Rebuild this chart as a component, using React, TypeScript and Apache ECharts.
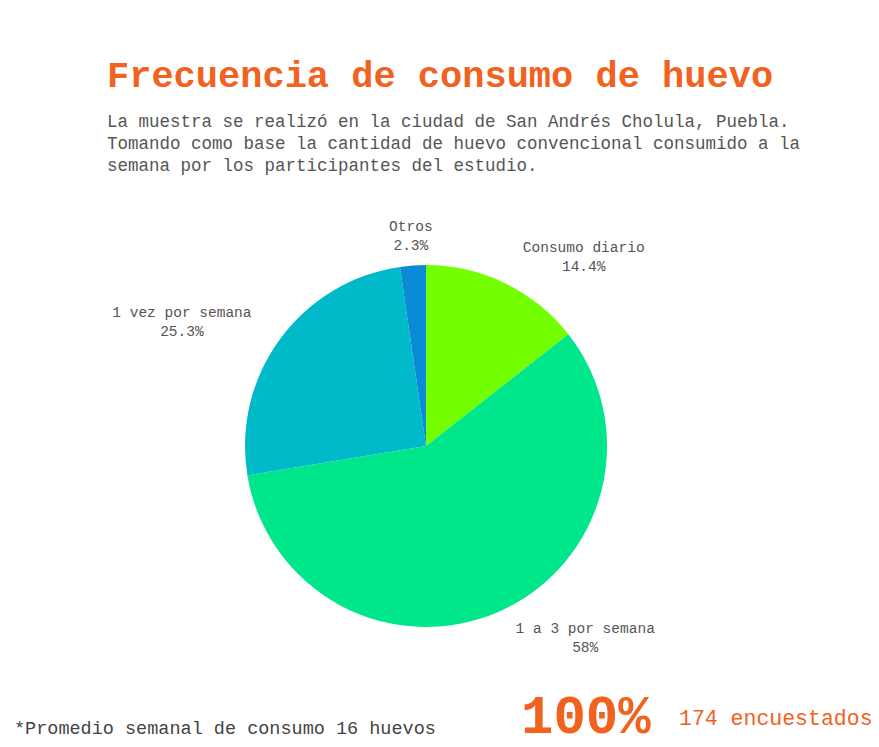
import React, { useEffect, useRef } from "react";
import * as echarts from "echarts";

const categories = ["Consumo diario", "1 a 3 por semana", "1 vez por semana", "Otros"];
const values = [14.4, 58, 25.3, 2.3];
const colors = ["#74ff00", "#00e68a", "#00b9c9", "#0b8ad6"];

const titleText = "Frecuencia de consumo de huevo";
const subtitleLines = [
  "La muestra se realizó en la ciudad de San Andrés Cholula, Puebla.",
  "Tomando como base la cantidad de huevo convencional consumido a la",
  "semana por los participantes del estudio.",
];
const footnote = "*Promedio semanal de consumo 16 huevos";
const bigNumber = "100%";
const respondents = "174 encuestados";

const ORANGE = "#f0621e";
const MONO = "'Liberation Mono', 'DejaVu Sans Mono', monospace";

export default function App() {
  const ref = useRef<HTMLDivElement>(null);
  useEffect(() => {
    document.body.style.margin = "0";
    const chart = echarts.init(ref.current!, null, { renderer: "svg" });
    chart.setOption({
      animation: false,
      backgroundColor: "#ffffff",
      textStyle: { fontFamily: MONO },
      graphic: [
        {
          type: "text",
          left: 107,
          top: 58,
          style: { text: titleText, font: `bold 37px ${MONO}`, fill: ORANGE },
        },
        {
          type: "text",
          left: 107,
          top: 111,
          style: {
            text: subtitleLines.join("\n"),
            font: `17.5px ${MONO}`,
            lineHeight: 22,
            fill: "#555555",
          },
        },
        {
          type: "text",
          left: 14,
          top: 720,
          style: { text: footnote, font: `18.5px ${MONO}`, fill: "#444444" },
        },
        {
          type: "text",
          left: 521,
          top: 691,
          style: { text: bigNumber, font: `bold 54px ${MONO}`, fill: ORANGE },
        },
        {
          type: "text",
          left: 679,
          top: 708,
          style: { text: respondents, font: `21.5px ${MONO}`, fill: ORANGE },
        },
      ],
      series: [
        {
          type: "pie",
          center: [426, 446],
          radius: 181,
          startAngle: 90,
          clockwise: true,
          avoidLabelOverlap: false,
          itemStyle: { borderWidth: 0 },
          label: {
            show: true,
            position: "outside",
            formatter: (p: any) => `{n|${p.name}}\n{n|${p.value}%}`,
            rich: {
              n: {
                align: "center",
                fontFamily: MONO,
                fontSize: 14.5,
                lineHeight: 19,
                color: "#555555",
              },
            },
          },
          labelLine: { show: false, length: 29, length2: 0 },
          labelLayout: (p: any) =>
            p.dataIndex === 3 ? { dx: p.labelRect.width / 2 + 5 } : {},
          emphasis: { disabled: true },
          data: categories.map((name, i) => ({
            name,
            value: values[i],
            itemStyle: { color: colors[i] },
          })),
        },
      ],
    });
    return () => chart.dispose();
  }, []);
  return (
    <div
      ref={ref}
      style={{ position: "absolute", left: 0, top: 0, width: 879, height: 747 }}
    />
  );
}
